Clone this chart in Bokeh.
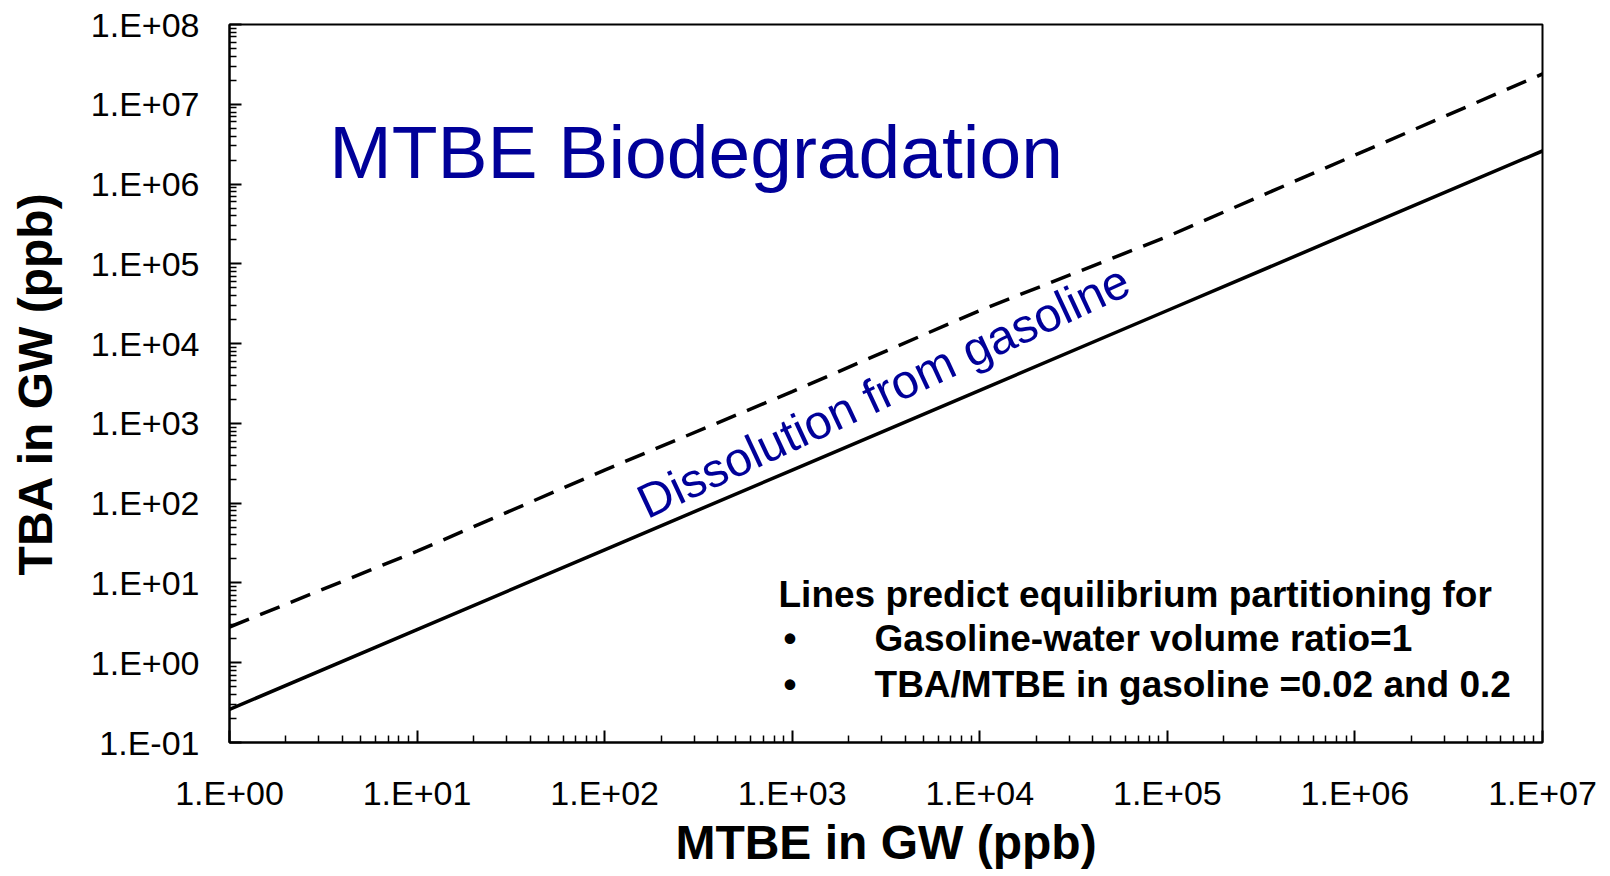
from bokeh.plotting import figure
from bokeh.models import Label, FixedTicker, CustomJSTickFormatter
from bokeh.embed import file_html
from bokeh.resources import INLINE

# values (log-log)
mtbe = [1, 10, 100, 1e3, 1e4, 1e5, 1e6, 1e7]
tba_low = [0.26, 2.6, 26, 260, 2600, 26000, 260000, 2.6e6]      # TBA/MTBE = 0.02
tba_high = [2.8, 25, 260, 2500, 26000, 220000, 2.3e6, 2.4e7]    # TBA/MTBE = 0.2

x_major = [1, 10, 100, 1e3, 1e4, 1e5, 1e6, 1e7]
y_major = [0.1, 1, 10, 100, 1e3, 1e4, 1e5, 1e6, 1e7, 1e8]

note_lines = ["Lines predict equilibrium partitioning for",
              "Gasoline-water volume ratio=1",
              "TBA/MTBE in gasoline =0.02 and 0.2"]

FONT = "Liberation Sans"
BLUE = "#000099"


def minors(majors):
    out = []
    for m in majors[:-1]:
        out += [m * k for k in range(2, 10)]
    return out


p = figure(width=1600, height=874, x_axis_type="log", y_axis_type="log",
           x_range=(1, 1e7), y_range=(0.1, 1e8),
           output_backend="svg", toolbar_location=None,
           min_border_left=229, min_border_right=58,
           min_border_top=24, min_border_bottom=132)

p.line(mtbe, tba_low, line_color="black", line_width=3.5)
p.line(mtbe, tba_high, line_color="black", line_width=3.5, line_dash="21 12")

p.xgrid.visible = False
p.ygrid.visible = False
p.outline_line_color = "black"
p.outline_line_width = 2
p.background_fill_color = "white"
p.border_fill_color = "white"

fmt = CustomJSTickFormatter(code="""
const e = Math.round(Math.log10(tick));
const a = Math.abs(e);
return "1.E" + (e < 0 ? "-" : "+") + (a < 10 ? "0" : "") + a;
""")

p.xaxis.ticker = FixedTicker(ticks=x_major, minor_ticks=minors(x_major))
p.yaxis.ticker = FixedTicker(ticks=y_major, minor_ticks=minors(y_major))

for ax in (p.xaxis, p.yaxis):
    ax.formatter = fmt
    ax.axis_line_width = 2
    ax.major_tick_in = 12
    ax.major_tick_out = 0
    ax.minor_tick_in = 7
    ax.minor_tick_out = 0
    ax.major_tick_line_width = 2
    ax.minor_tick_line_width = 1.5
    ax.major_label_text_font = FONT
    ax.major_label_text_font_size = "34px"
    ax.major_label_text_color = "black"
    ax.axis_label_text_font = FONT
    ax.axis_label_text_font_style = "bold"
    ax.axis_label_text_font_size = "48px"
    ax.axis_label_text_color = "black"

p.xaxis.axis_label = "MTBE in GW (ppb)"
p.yaxis.axis_label = "TBA in GW (ppb)"
p.xaxis.major_label_standoff = 31
p.yaxis.major_label_standoff = 30
p.xaxis.axis_label_standoff = 1
p.yaxis.axis_label_standoff = 26

p.add_layout(Label(x=3.4, y=2.5e6, text="MTBE Biodegradation",
                   text_font=FONT, text_font_size="75px", text_color=BLUE,
                   text_baseline="alphabetic"))

p.add_layout(Label(x=155, y=96, text="Dissolution from gasoline", angle=25,
                   angle_units="deg", text_font=FONT, text_font_size="48px",
                   text_color=BLUE, text_baseline="alphabetic"))

note_y = [7.1, 2.0, 0.54]
p.add_layout(Label(x=845, y=note_y[0], text=note_lines[0], text_font=FONT,
                   text_font_size="37px", text_font_style="bold",
                   text_color="black", text_baseline="alphabetic"))
for t, yy in zip(note_lines[1:], note_y[1:]):
    p.add_layout(Label(x=899, y=yy, text="\u2022", text_font=FONT,
                       text_font_size="37px", text_font_style="bold",
                       text_color="black", text_baseline="alphabetic"))
    p.add_layout(Label(x=2747, y=yy, text=t, text_font=FONT,
                       text_font_size="37px", text_font_style="bold",
                       text_color="black", text_baseline="alphabetic"))

open("out.html", "w").write(file_html(p, INLINE))
